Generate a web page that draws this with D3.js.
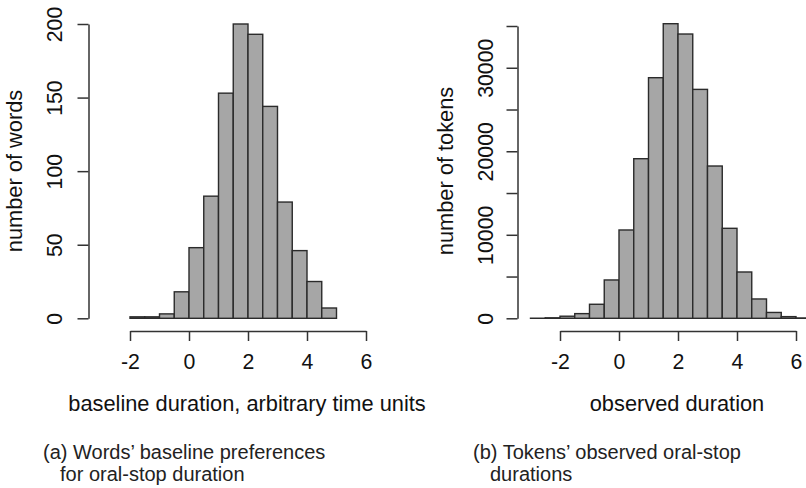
<!DOCTYPE html>
<html>
<head>
<meta charset="utf-8">
<script src="https://cdn.jsdelivr.net/npm/d3@7"></script>
<style>
	body { margin: 0; background: #fff; }
	svg text { font-family: "Liberation Sans", Arial, Helvetica, sans-serif; }
</style>
</head>
<body>
<svg id="chart" width="806" height="488"></svg>
<script>
// left panel: words' baseline preferences, bins of 0.5 starting at -2
const wordBinStarts = [-2, -1.5, -1, -0.5, 0, 0.5, 1, 1.5, 2, 2.5, 3, 3.5, 4, 4.5];
const wordCounts = [1, 1, 3, 18, 48, 83, 153, 200, 193, 144, 79, 46, 25, 7];
const wordYTicks = [0, 50, 100, 150, 200];

// right panel: tokens' observed durations, bins of 0.5 starting at -3
const tokenBinStarts = [-3, -2.5, -2, -1.5, -1, -0.5, 0, 0.5, 1, 1.5, 2, 2.5, 3, 3.5, 4, 4.5, 5, 5.5, 6];
const tokenCounts = [10, 60, 250, 560, 1680, 4590, 10575, 19110, 28810, 35275, 34040, 27410, 18235, 10775, 5545, 2315, 700, 200, 40];
const tokenYTicks = [0, 5000, 10000, 15000, 20000, 25000, 30000, 35000];
const tokenYLabels = [0, 10000, 20000, 30000];

const xTicks = [-2, 0, 2, 4, 6];
const binWidth = 0.5;

class Histogram {
	constructor(starts, counts, config) {
		this.starts = starts;
		this.counts = counts;
		this.config = config;
		this.canvas = d3.select("#chart").append("g");
	}

	create_scales() {
		this.xScale = d3.scaleLinear()
						.domain([-2, 6])
						.range(this.config["xRange"]);
		this.yScale = d3.scaleLinear()
						.domain([0, this.config["yMax"]])
						.range([318.3, this.config["yTop"]]);
		return this;
	}

	add_bars() {
		let xScale = this.xScale;
		let yScale = this.yScale;
		let data = this.starts.map((s, i) => ({"start": s, "count": this.counts[i]}));

		this.canvas.append("g")
				   .selectAll("rect")
				   .data(data)
				   .enter()
				   .append("rect")
				   .attr("x", d => xScale(d.start))
				   .attr("width", d => xScale(d.start + binWidth) - xScale(d.start))
				   .attr("y", d => yScale(d.count))
				   .attr("height", d => yScale(0) - yScale(d.count))
				   .attr("fill", "#a6a6a6")
				   .attr("stroke", "#2b2b2b")
				   .attr("stroke-width", 1.4);
		return this;
	}

	add_xaxis() {
		let xAxis = d3.axisBottom(this.xScale)
					  .tickValues(xTicks)
					  .tickSize(10)
					  .tickSizeOuter(0)
					  .tickFormat(d => String(d));

		let g = this.canvas.append("g")
						   .attr("transform", "translate(0,331)")
						   .call(xAxis);
		this.#style_axis(g);
		g.selectAll("text")
		 .attr("y", 38)
		 .attr("dy", 0);
		return this;
	}

	add_yaxis() {
		let labels = this.config["yLabels"];
		let yAxis = d3.axisLeft(this.yScale)
					  .tickValues(this.config["yTicks"])
					  .tickSize(11)
					  .tickSizeOuter(0)
					  .tickFormat(d => labels.includes(d) ? String(d) : "");

		let g = this.canvas.append("g")
						   .attr("transform", `translate(${this.config["yAxisX"]},0)`)
						   .call(yAxis);
		this.#style_axis(g);
		g.selectAll("text")
		 .attr("x", null)
		 .attr("dy", 0)
		 .attr("text-anchor", "middle")
		 .attr("transform", `translate(${-this.config["yLabelOffset"]},0) rotate(-90)`);
		return this;
	}

	#style_axis(g) {
		g.selectAll("path, line")
		 .attr("stroke", "#333")
		 .attr("stroke-width", 1.5);
		g.selectAll("text")
		 .attr("fill", "#111")
		 .style("font-size", "21.3px");
	}

	add_axis_labels() {
		let params = this.config;
		this.canvas.append("text")
				   .attr("x", params["xTitleX"])
				   .attr("y", 411)
				   .attr("text-anchor", "middle")
				   .attr("fill", "#111")
				   .style("font-size", "21.8px")
				   .text(params["xTitle"]);

		this.canvas.append("text")
				   .attr("transform", `translate(${params["yTitleX"]},${params["yTitleY"]}) rotate(-90)`)
				   .attr("text-anchor", "middle")
				   .attr("fill", "#111")
				   .style("font-size", "21.8px")
				   .text(params["yTitle"]);
		return this;
	}

	add_caption() {
		let params = this.config["caption"];
		this.canvas.append("text")
				   .attr("x", params["x"])
				   .attr("y", 459)
				   .attr("fill", "#222")
				   .style("font-size", "20px")
				   .text(params["lines"][0]);
		this.canvas.append("text")
				   .attr("x", params["indent"])
				   .attr("y", 481)
				   .attr("fill", "#222")
				   .style("font-size", "20px")
				   .text(params["lines"][1]);
		return this;
	}

	generate() {
		this.create_scales()
			.add_bars()
			.add_xaxis()
			.add_yaxis()
			.add_axis_labels()
			.add_caption();
	}
}

new Histogram(wordBinStarts, wordCounts, {
	"xRange": [130, 366],
	"yMax": 200,
	"yTop": 24,
	"yTicks": wordYTicks,
	"yLabels": wordYTicks,
	"yAxisX": 88.5,
	"yLabelOffset": 26.5,
	"xTitle": "baseline duration, arbitrary time units",
	"xTitleX": 247,
	"yTitle": "number of words",
	"yTitleX": 22,
	"yTitleY": 171,
	"caption": {"x": 43, "indent": 60, "lines": ["(a) Words\u2019 baseline preferences", "for oral-stop duration"]}
}).generate();

new Histogram(tokenBinStarts, tokenCounts, {
	"xRange": [560, 796],
	"yMax": 35000,
	"yTop": 26,
	"yTicks": tokenYTicks,
	"yLabels": tokenYLabels,
	"yAxisX": 517.5,
	"yLabelOffset": 24.5,
	"xTitle": "observed duration",
	"xTitleX": 677,
	"yTitle": "number of tokens",
	"yTitleX": 453,
	"yTitleY": 171,
	"caption": {"x": 473, "indent": 490, "lines": ["(b) Tokens\u2019 observed oral-stop", "durations"]}
}).generate();
</script>
</body>
</html>
